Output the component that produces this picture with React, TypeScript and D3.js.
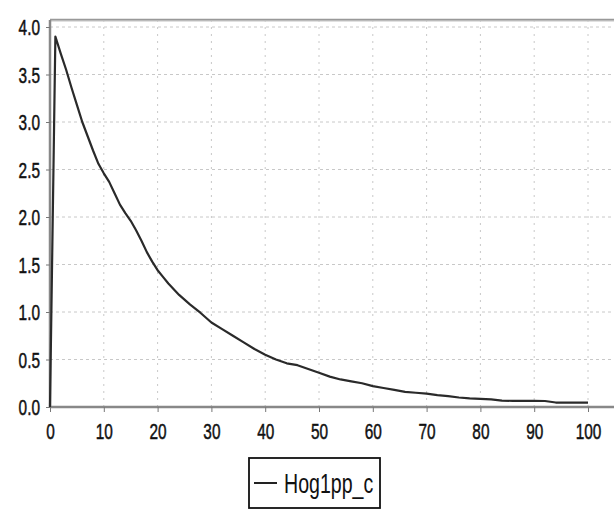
import * as d3 from 'd3'
import { useRef, useEffect } from 'react'

// time points and Hog1pp_c values
const times = [0, 1, 2, 3, 4, 5, 6, 7, 8, 9, 10, 11, 12, 13, 14, 15, 16, 17, 18, 19, 20, 21, 22, 24, 26, 28, 30, 32, 34, 36, 38, 40, 42, 44, 46, 48, 50, 52, 54, 56, 58, 60, 62, 64, 66, 68, 70, 72, 74, 76, 78, 80, 82, 84, 86, 88, 90, 92, 94, 96, 98, 100]
const hog1pp = [0, 3.9, 3.72, 3.55, 3.36, 3.18, 3.0, 2.85, 2.7, 2.56, 2.46, 2.37, 2.25, 2.13, 2.04, 1.96, 1.86, 1.75, 1.63, 1.53, 1.44, 1.37, 1.3, 1.18, 1.08, 0.99, 0.89, 0.82, 0.75, 0.68, 0.61, 0.55, 0.5, 0.46, 0.44, 0.4, 0.36, 0.32, 0.29, 0.27, 0.25, 0.22, 0.2, 0.18, 0.16, 0.15, 0.14, 0.125, 0.115, 0.1, 0.09, 0.085, 0.08, 0.067, 0.065, 0.065, 0.065, 0.063, 0.047, 0.046, 0.046, 0.046]
const xTicks = [0, 10, 20, 30, 40, 50, 60, 70, 80, 90, 100]
const yTicks = [0, 0.5, 1.0, 1.5, 2.0, 2.5, 3.0, 3.5, 4.0]
const seriesName = 'Hog1pp_c'

const font = "'Liberation Sans', Arial, sans-serif"
const squeeze = 0.7 // the original is squashed horizontally

const App = () => {
  const ref = useRef<SVGSVGElement>(null)

  useEffect(() => {
    const svg = d3.select(ref.current)
    svg.selectAll('*').remove()

    const left = 50
    const top = 20
    const right = 614
    const bottom = 407

    const x = d3.scaleLinear().domain([0, 100]).range([left, 588])
    const y = d3.scaleLinear().domain([0, 4]).range([bottom, 27])

    // grid
    svg
      .append('g')
      .selectAll('line')
      .data(xTicks.slice(1))
      .enter()
      .append('line')
      .attr('x1', (d) => x(d))
      .attr('x2', (d) => x(d))
      .attr('y1', top)
      .attr('y2', bottom)
      .attr('stroke', '#c8c8c8')
      .attr('stroke-dasharray', '2,5')
    svg
      .append('g')
      .selectAll('line')
      .data(yTicks.slice(1))
      .enter()
      .append('line')
      .attr('x1', left)
      .attr('x2', right)
      .attr('y1', (d) => y(d))
      .attr('y2', (d) => y(d))
      .attr('stroke', '#c8c8c8')
      .attr('stroke-dasharray', '3,3')

    // frame
    svg.append('line').attr('x1', left).attr('x2', right).attr('y1', top).attr('y2', top)
      .attr('stroke', '#999').attr('stroke-width', 2.5)
    svg.append('line').attr('x1', left).attr('x2', right).attr('y1', top + 1).attr('y2', top + 1)
      .attr('stroke', '#ddd').attr('stroke-width', 1)

    // axes
    const xAxis = svg
      .append('g')
      .attr('transform', `translate(0,${bottom})`)
      .call(d3.axisBottom(x).tickValues(xTicks).tickSize(5).tickSizeOuter(0).tickFormat(d3.format('d')))
    const yAxis = svg
      .append('g')
      .attr('transform', `translate(${left},0)`)
      .call(d3.axisLeft(y).tickValues(yTicks).tickSize(4).tickSizeOuter(0).tickFormat(d3.format('.1f')))

    xAxis.select('.domain').attr('d', `M${left},0H${right}`).attr('stroke', '#888').attr('stroke-width', 2.5)
    yAxis.select('.domain').attr('d', `M0,${top}V${bottom}`).attr('stroke', '#888').attr('stroke-width', 2.5)
    for (const ax of [xAxis, yAxis]) {
      ax.selectAll('.tick line').attr('stroke', '#777')
      ax.selectAll('.tick text')
        .attr('fill', '#111')
        .attr('stroke', '#111')
        .attr('stroke-width', 0.5)
        .attr('transform', `scale(${squeeze},1)`)
        .style('font-family', font)
        .style('font-size', '22px')
    }
    xAxis.selectAll('.tick text').attr('y', 32).attr('dy', 0)
    yAxis.selectAll('.tick text').attr('x', -10 / squeeze).attr('dy', '0.36em')

    // series
    const line = d3
      .line<number>()
      .x((_, i) => x(times[i]))
      .y((d) => y(d))
    svg
      .append('path')
      .datum(hog1pp)
      .attr('d', line)
      .attr('fill', 'none')
      .attr('stroke', '#2a2a2a')
      .attr('stroke-width', 2.2)
      .attr('stroke-linejoin', 'round')

    // legend
    const lg = svg.append('g').attr('transform', 'translate(249,458)')
    lg.append('rect').attr('width', 131).attr('height', 50).attr('fill', 'white')
      .attr('stroke', '#111').attr('stroke-width', 1.8)
    lg.append('line').attr('x1', 5).attr('x2', 28).attr('y1', 25).attr('y2', 25)
      .attr('stroke', '#222').attr('stroke-width', 2)
    lg.append('text')
      .attr('transform', `translate(35,35) scale(${squeeze},1)`)
      .text(seriesName)
      .attr('fill', '#111')
      .style('font-family', font)
      .style('font-size', '28px')
  }, [])

  return (
    <svg
      ref={ref}
      width={614}
      height={511}
      style={{ position: 'absolute', left: 0, top: 0, background: 'white' }}
    ></svg>
  )
}

export default App
